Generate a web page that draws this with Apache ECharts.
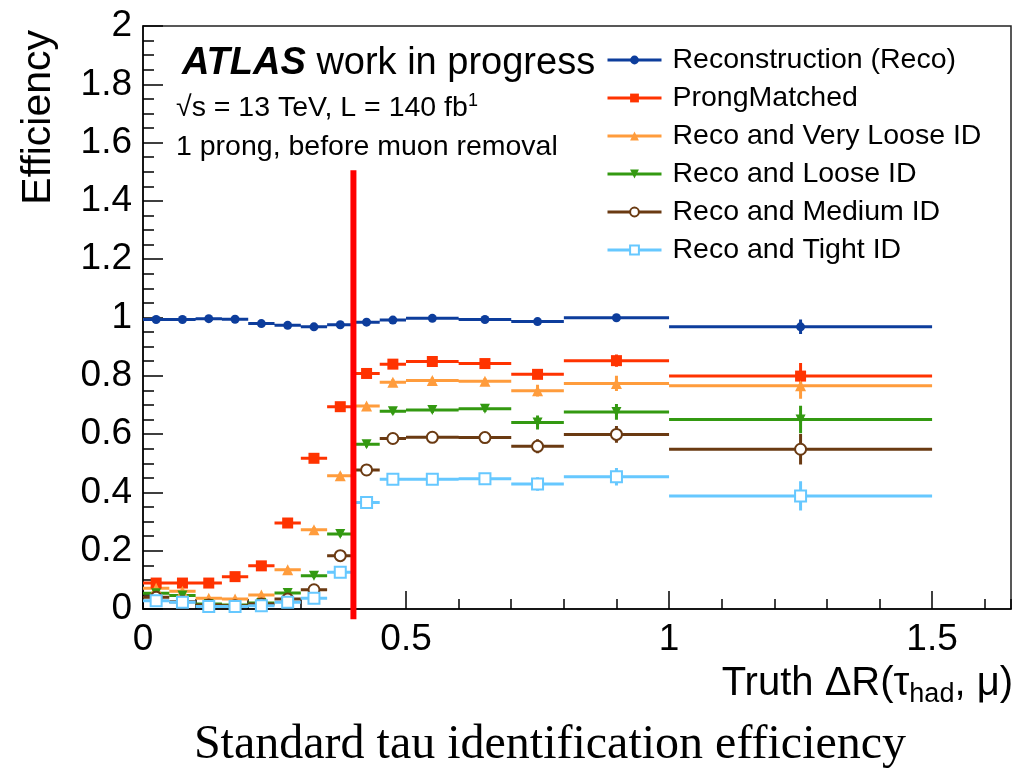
<!DOCTYPE html>
<html>
<head>
<meta charset="utf-8">
<script src="https://cdn.jsdelivr.net/npm/echarts@6/dist/echarts.min.js"></script>
<style>
  html, body { margin: 0; padding: 0; background: #fff; }
  #chart { width: 1027px; height: 772px; }
</style>
</head>
<body>
<div id="chart"></div>
<script>
// Truth ΔR(τ_had, μ) bin edges
const binEdges = [0, 0.05, 0.1, 0.15, 0.2, 0.25, 0.3, 0.35, 0.4, 0.45, 0.5, 0.6, 0.7, 0.8, 1.0, 1.5];

// Efficiencies per bin
const effReco   = [0.993, 0.993, 0.996, 0.994, 0.979, 0.973, 0.968, 0.975, 0.984, 0.991, 0.997, 0.993, 0.986, 0.999, 0.968];
const effProng  = [0.089, 0.089, 0.089, 0.111, 0.148, 0.295, 0.517, 0.694, 0.808, 0.840, 0.849, 0.842, 0.805, 0.852, 0.799];
const effVLoose = [0.071, 0.061, 0.037, 0.034, 0.048, 0.135, 0.272, 0.457, 0.696, 0.778, 0.784, 0.781, 0.749, 0.774, 0.766];
const effLoose  = [0.054, 0.046, 0.017, 0.014, 0.021, 0.055, 0.114, 0.257, 0.565, 0.678, 0.683, 0.687, 0.640, 0.676, 0.650];
const effMedium = [0.040, 0.025, 0.014, 0.011, 0.017, 0.034, 0.066, 0.183, 0.477, 0.585, 0.589, 0.588, 0.558, 0.599, 0.548];
const effTight  = [0.028, 0.023, 0.009, 0.009, 0.011, 0.023, 0.037, 0.126, 0.365, 0.445, 0.445, 0.447, 0.429, 0.454, 0.388];

// Statistical uncertainties per bin
const errReco   = [0.003, 0.003, 0.003, 0.003, 0.003, 0.003, 0.003, 0.003, 0.004, 0.004, 0.004, 0.004, 0.006, 0.008, 0.025];
const errProng  = [0.006, 0.006, 0.006, 0.006, 0.007, 0.008, 0.009, 0.009, 0.010, 0.010, 0.010, 0.010, 0.015, 0.021, 0.045];
const errVLoose = [0.005, 0.005, 0.004, 0.004, 0.005, 0.007, 0.009, 0.010, 0.010, 0.010, 0.010, 0.011, 0.020, 0.026, 0.045];
const errLoose  = [0.005, 0.005, 0.003, 0.003, 0.003, 0.005, 0.007, 0.009, 0.010, 0.010, 0.011, 0.011, 0.024, 0.027, 0.047];
const errMedium = [0.004, 0.004, 0.003, 0.003, 0.003, 0.004, 0.006, 0.008, 0.010, 0.011, 0.011, 0.011, 0.024, 0.029, 0.052];
const errTight  = [0.004, 0.004, 0.002, 0.002, 0.002, 0.004, 0.005, 0.007, 0.010, 0.011, 0.011, 0.011, 0.023, 0.030, 0.050];

const seriesNames = ['Reconstruction (Reco)', 'ProngMatched', 'Reco and Very Loose ID',
                     'Reco and Loose ID', 'Reco and Medium ID', 'Reco and Tight ID'];

// Muon-removal cut in ΔR and the extent of its marker line
const cutDeltaR = 0.4;
const cutLineSpan = [-0.035, 1.505];

const xTickLabels = ['0', '0.5', '1', '1.5'];

const SANS = "'Liberation Sans', Arial, Helvetica, sans-serif";
const SERIF = "'Liberation Serif', 'Times New Roman', serif";

const styles = [
  { color: '#0d3d9c', symbol: 'circle', size: 9 },
  { color: '#ff3300', symbol: 'rect', size: 11 },
  { color: '#ff9c3c', symbol: 'triangle', size: 11 },
  { color: '#339911', symbol: 'path://M0,0 L10,0 L5,9 Z', size: 10 },
  { color: '#6a3a12', symbol: 'emptyCircle', size: 11 },
  { color: '#66c8ff', symbol: 'emptyRect', size: 11 }
];

// Horizontal bin-width bars, vertical error bars and a marker at each bin centre,
// written as isolated polyline pieces separated by gaps.
function histPoints(eff, err) {
  const pts = [];
  for (let i = 0; i < eff.length; i++) {
    const lo = binEdges[i], hi = binEdges[i + 1], c = (lo + hi) / 2;
    const v = eff[i], e = err[i];
    pts.push({ value: [lo, v], symbol: 'none' }, { value: [hi, v], symbol: 'none' }, { value: [hi, '-'] });
    pts.push({ value: [c, v - e], symbol: 'none' }, { value: [c, v + e], symbol: 'none' }, { value: [c, '-'] });
    pts.push({ value: [c, v] }, { value: [c, '-'] });
  }
  return pts;
}

const effs = [effReco, effProng, effVLoose, effLoose, effMedium, effTight];
const errs = [errReco, errProng, errVLoose, errLoose, errMedium, errTight];

const series = seriesNames.map((name, k) => {
  const st = styles[k];
  const empty = st.symbol.indexOf('empty') === 0;
  return {
    name,
    type: 'line',
    xAxisIndex: 0,
    yAxisIndex: 0,
    data: histPoints(effs[k], errs[k]),
    connectNulls: false,
    showSymbol: true,
    symbol: st.symbol,
    symbolSize: st.size,
    lineStyle: { color: st.color, width: 3 },
    itemStyle: empty ? { color: st.color, borderColor: st.color, borderWidth: 2 } : { color: st.color },
    emphasis: { disabled: true },
    silent: true,
    z: 3
  };
});

// Vertical line at the ΔR cut
series.push({
  name: 'cut',
  type: 'line',
  data: [[cutDeltaR, cutLineSpan[0]], [cutDeltaR, cutLineSpan[1]]],
  showSymbol: false,
  symbol: 'none',
  clip: false,
  lineStyle: { color: '#ff0000', width: 6 },
  emphasis: { disabled: true },
  silent: true,
  z: 5
});

const chart = echarts.init(document.getElementById('chart'));

chart.setOption({
  animation: false,
  backgroundColor: '#ffffff',
  grid: {
    left: 143, right: 16, top: 26, bottom: 163,
    show: true, borderColor: '#222', borderWidth: 1.5, backgroundColor: 'transparent'
  },
  legend: {
    data: seriesNames,
    orient: 'vertical',
    left: 606,
    top: 45,
    padding: 0,
    itemWidth: 54,
    itemHeight: 11,
    itemGap: 8,
    selectedMode: false,
    lineStyle: { width: 3 },
    textStyle: { fontFamily: SANS, fontSize: 28.5, color: '#000', lineHeight: 30, padding: [0, 0, 0, 6] }
  },
  xAxis: [
    {
      type: 'value', position: 'bottom', min: 0, max: 1.65, interval: 0.5,
      axisLine: { show: true, onZero: false, lineStyle: { color: '#000', width: 1.5 } },
      axisTick: { show: true, inside: true, length: 18, lineStyle: { color: '#000', width: 1.5 } },
      axisLabel: {
        show: true, margin: 12, color: '#000', fontFamily: SANS, fontSize: 37,
        showMaxLabel: false,
        formatter: v => xTickLabels.find(t => Math.abs(parseFloat(t) - v) < 1e-9) || ''
      },
      splitLine: { show: false }
    },
    {
      type: 'value', position: 'bottom', min: 0, max: 1.65, interval: 0.1,
      axisLine: { show: false, onZero: false },
      axisTick: { show: true, inside: true, length: 10, lineStyle: { color: '#000', width: 1.5 } },
      axisLabel: { show: false },
      splitLine: { show: false }
    }
  ],
  yAxis: {
    type: 'value', min: 0, max: 2, interval: 0.2,
    axisLine: { show: true, onZero: false, lineStyle: { color: '#000', width: 1.5 } },
    axisTick: { show: true, inside: true, length: 20, lineStyle: { color: '#000', width: 1.5 } },
    minorTick: { show: true, splitNumber: 4, length: 11, lineStyle: { color: '#000', width: 1.5 } },
    axisLabel: { margin: 11, color: '#000', fontFamily: SANS, fontSize: 37 },
    splitLine: { show: false },
    minorSplitLine: { show: false }
  },
  graphic: [
    {
      type: 'text', x: 182, y: 64, silent: true,
      style: {
        text: '{a|ATLAS} work in progress',
        fontFamily: SANS, fontSize: 38, fill: '#000',
        align: 'left', verticalAlign: 'middle',
        rich: { a: { fontFamily: SANS, fontSize: 38, fontWeight: 'bold', fontStyle: 'italic', fill: '#000' } }
      }
    },
    {
      type: 'text', x: 176, y: 108, silent: true,
      style: {
        text: '√s = 13 TeV, L = 140 fb{s|1}',
        fontFamily: SANS, fontSize: 28.5, fill: '#000',
        align: 'left', verticalAlign: 'middle',
        rich: { s: { fontFamily: SANS, fontSize: 18, fill: '#000', padding: [0, 0, 14, 0] } }
      }
    },
    {
      type: 'text', x: 176, y: 147, silent: true,
      style: {
        text: '1 prong, before muon removal',
        fontFamily: SANS, fontSize: 28.5, fill: '#000',
        align: 'left', verticalAlign: 'middle'
      }
    },
    {
      type: 'text', x: 39, y: 30, rotation: Math.PI / 2, silent: true,
      style: {
        text: 'Efficiency',
        fontFamily: SANS, fontSize: 41, fill: '#000',
        align: 'right', verticalAlign: 'middle'
      }
    },
    {
      type: 'text', x: 1013, y: 684, silent: true,
      style: {
        text: 'Truth ΔR(τ{s|had}, μ)',
        fontFamily: SANS, fontSize: 40, fill: '#000',
        align: 'right', verticalAlign: 'middle',
        rich: { s: { fontFamily: SANS, fontSize: 27, fill: '#000', padding: [22, 0, 0, 0] } }
      }
    },
    {
      type: 'text', x: 550, y: 745, silent: true,
      style: {
        text: 'Standard tau identification efficiency',
        fontFamily: SERIF, fontSize: 48, fill: '#000',
        align: 'center', verticalAlign: 'middle'
      }
    }
  ],
  series
});
</script>
</body>
</html>
